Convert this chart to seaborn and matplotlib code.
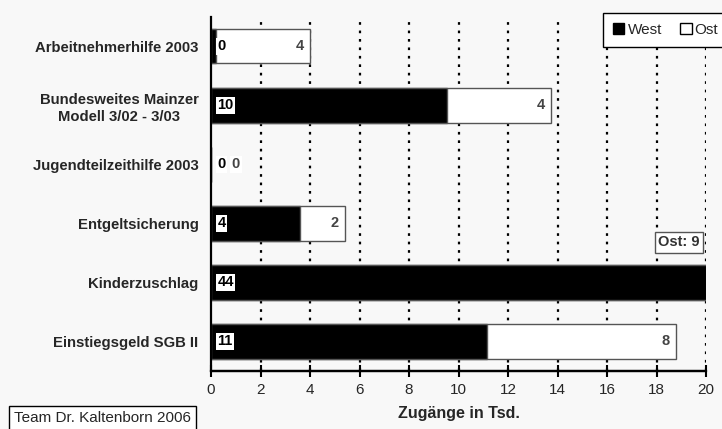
import matplotlib.pyplot as plt
import pandas as pd
import seaborn as sns
from matplotlib.patches import Patch

# Zugänge in Tsd.
categories = ['Arbeitnehmerhilfe 2003',
              'Bundesweites Mainzer\nModell 3/02 - 3/03',
              'Jugendteilzeithilfe 2003',
              'Entgeltsicherung',
              'Kinderzuschlag',
              'Einstiegsgeld SGB II']
west = [0.2, 9.55, 0.0, 3.6, 44.0, 11.15]
ost = [3.8, 4.2, 0.0, 1.8, 9.0, 7.65]
xticks = [0, 2, 4, 6, 8, 10, 12, 14, 16, 18, 20]

df = pd.DataFrame({'Kategorie': categories, 'West': west, 'Ost': ost})
df['Gesamt'] = df['West'] + df['Ost']

sns.set_style('white')
plt.rcParams['font.family'] = ['Liberation Sans', 'DejaVu Sans']

bg = '#f8f8f8'
fig = plt.figure(figsize=(7.22, 4.29), dpi=100, facecolor=bg)
ax = fig.add_axes([211 / 722, 1 - 371 / 429, 495 / 722, 354.5 / 429])
ax.set_facecolor(bg)

# gridlines behind bars
for x in xticks[1:]:
    ax.axvline(x, color='black', lw=1.6, ls=(0, (1.2, 2.6)), zorder=0)

sns.barplot(data=df, y='Kategorie', x='Gesamt', orient='h', color='white',
            saturation=1, edgecolor='#555555', linewidth=1, width=0.59, ax=ax, zorder=2)
sns.barplot(data=df, y='Kategorie', x='West', orient='h', color='black',
            saturation=1, edgecolor='#555555', linewidth=1, width=0.59, ax=ax, zorder=3)

ax.set_xlim(0, 20)
ax.set_ylim(len(categories) - 0.5, -0.5)
ax.set_xticks(xticks)
ax.set_xlabel('Zugänge in Tsd.', fontsize=11.5, fontweight='bold', labelpad=6)
ax.set_ylabel('')
ax.tick_params(axis='x', bottom=True, direction='inout', length=8, width=1.5,
               color='black', labelsize=11, pad=5)
ax.tick_params(axis='y', left=False, length=0, pad=9)
for lab in ax.get_yticklabels():
    lab.set_fontweight('bold')
    lab.set_fontsize(10.7)
    lab.set_multialignment('center')
    lab.set_linespacing(1.3)

for side in ['top', 'right']:
    ax.spines[side].set_visible(False)
for side in ['left', 'bottom']:
    ax.spines[side].set_visible(True)
    ax.spines[side].set_color('black')
    ax.spines[side].set_linewidth(1.6)
    ax.spines[side].set_zorder(6)

# x axis line drawn again in data coordinates on the lower category edge
ax.axhline(len(categories) - 0.5, xmin=0, xmax=1, color='black', lw=1.6,
           clip_on=False, zorder=7)
ax.set_ylim(len(categories) - 0.5, -0.5)

# value labels
for i, row in df.iterrows():
    ax.annotate(f"{row['West']:.0f}", (0, i), xytext=(4.5, 0), textcoords='offset points',
                ha='left', va='center', fontsize=10.5, fontweight='bold', color='black',
                bbox=dict(boxstyle='square,pad=0.1', fc='white', ec='none'), zorder=5)
    if row['Kategorie'] == 'Kinderzuschlag':
        ax.annotate(f"Ost: {row['Ost']:.0f}", (19.75, i - 0.68), ha='right', va='center',
                    fontsize=10.5, fontweight='bold', color='#333333',
                    bbox=dict(boxstyle='square,pad=0.25', fc='white', ec='#555555', lw=1),
                    zorder=5)
    elif row['Gesamt'] == 0:
        ax.annotate(f"{row['Ost']:.0f}", (0, i), xytext=(15, 0), textcoords='offset points',
                    ha='left', va='center', fontsize=10.5, fontweight='bold', color='#444444',
                    bbox=dict(boxstyle='square,pad=0.1', fc='white', ec='none'), zorder=5)
    else:
        ax.annotate(f"{row['Ost']:.0f}", (row['Gesamt'], i), xytext=(-4.5, 0),
                    textcoords='offset points', ha='right', va='center', fontsize=10.5,
                    fontweight='bold', color='#444444', zorder=5)

handles = [Patch(fc='black', ec='black', label='West'),
           Patch(fc='white', ec='black', label='Ost')]
leg = ax.legend(handles=handles, loc='upper left', bbox_to_anchor=(0.792, 1.01), ncol=2,
                fontsize=11, frameon=True, fancybox=False, edgecolor='black',
                handlelength=0.75, handleheight=0.75, handletextpad=0.2, columnspacing=1.2,
                borderpad=0.65, borderaxespad=0)
leg.get_frame().set_linewidth(1)
leg.get_frame().set_facecolor('white')
leg.get_frame().set_alpha(1)
leg.set_zorder(10)

fig.text(14 / 722, 1 - 418 / 429, 'Team Dr. Kaltenborn 2006', fontsize=11, ha='left',
         va='center', bbox=dict(boxstyle='square,pad=0.3', fc='white', ec='black', lw=1))

fig.savefig('out.png', dpi=100, facecolor=bg)
